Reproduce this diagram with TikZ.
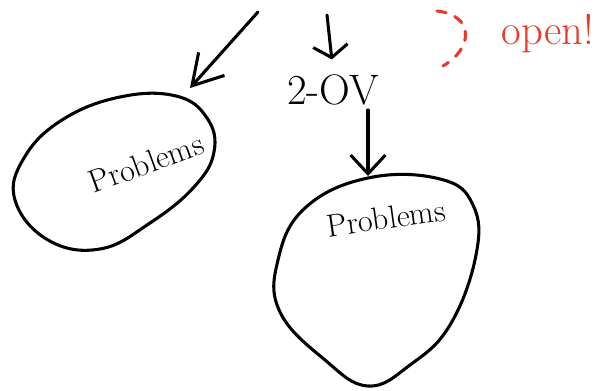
\documentclass[tikz,border=0pt]{standalone}
\usepackage{xcolor}
\usepackage{tikz}
\usetikzlibrary{positioning, calc, arrows.meta}
\definecolor{InkBlack}{HTML}{000000}
\definecolor{InkRed}{HTML}{E8392B}

\begin{document}
\begin{tikzpicture}[x=0.75pt,y=-0.75pt,line cap=round,line join=round,
  ink/.style={InkBlack,line width=2.3pt},
  barb/.style={-{Straight Barb[length=#1,width=26pt,line width=2.3pt]}},
  blobtext/.style={font=\fontsize{24}{26}\selectfont},
  handtext/.style={font=\fontsize{32}{34}\selectfont}]
  \useasboundingbox (0,0) rectangle (603,391);
  % the two blobs
  \draw[ink] plot[smooth cycle,tension=0.7] coordinates {(176,96) (207,118) (214,152) (194,187) (150,223) (100,249) (48,240) (15,200) (24,158) (62,120) (120,97)};
  \draw[ink] plot[smooth cycle,tension=0.7] coordinates {(368,178) (440,179) (473,205) (476,255) (450,325) (410,365) (368,386) (325,360) (280,312) (278,260) (305,208)};
  \coordinate (blobLtop) at (190,88);
  \coordinate (blobRtop) at (368,176);
  \coordinate (src) at (258,12);
  \coordinate (srcOV) at (327,15);
  \node[blobtext,rotate=20] (probL) at (146,163) {Problems};
  \node[blobtext,rotate=8] (probR) at (386,218) {Problems};
  \node[handtext] (ov) at (333,90) {2-OV};
  \node[handtext,InkRed] (open) at (548,34) {open!};
  % arrows
  \draw[ink,barb=22pt] (src) -- (blobLtop);
  \draw[ink,barb=9pt,shorten >=8pt] (srcOV) -- (ov.north);
  \draw[ink,barb=14pt] (ov.south -| blobRtop) -- (blobRtop);
  \draw[InkRed,line width=2.3pt,dash pattern=on 7pt off 7pt] (437,11) .. controls (474,15) and (474,48) .. (443,66);
\end{tikzpicture}
\end{document}
